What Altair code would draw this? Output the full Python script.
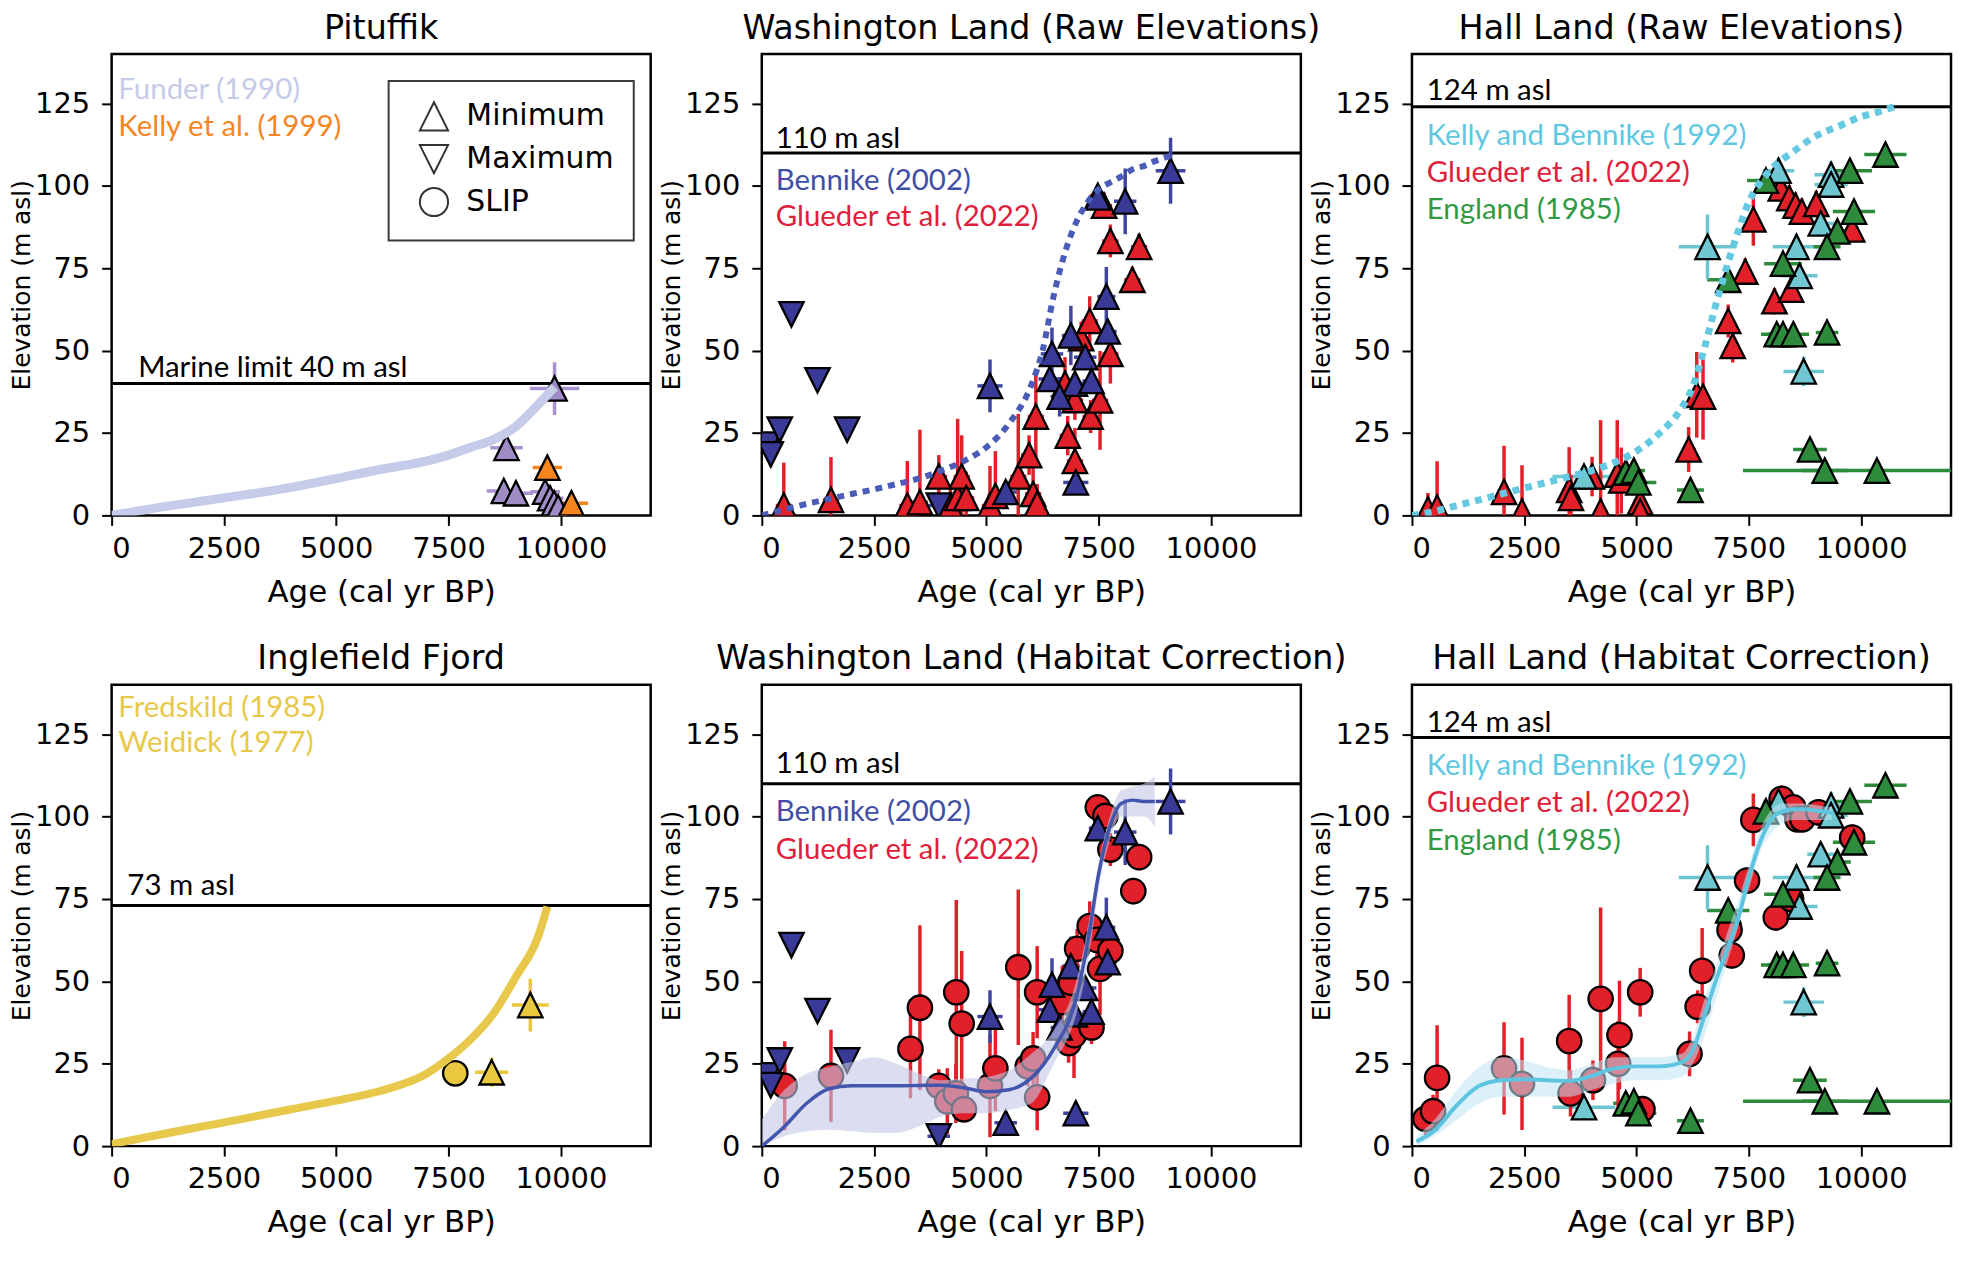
import altair as alt
import pandas as pd

# ------------------------------------------------------------------ data
# Pituffik -------------------------------------------------------------
PIT_FUNDER_X = [9860, 8790, 8730, 9000, 9650, 9760, 9850, 9940]
PIT_FUNDER_Y = [38.5, 20.5, 7.4, 6.7, 7.2, 5.2, 3.7, 2.4]
PIT_FUNDER_XERR = [550, 360, 380, 380, 330, 300, 280, 250]
PIT_FUNDER_YERR = [8, 0, 0, 0, 0, 0, 0, 0]
PIT_KELLY_X = [9700, 10235]
PIT_KELLY_Y = [14.5, 3.7]
PIT_KELLY_XERR = [325, 370]
PIT_CURVE_X = [0, 1000, 2500, 4000, 5000, 6000, 7000, 7500, 8000, 8500, 9000, 9500, 9860]
PIT_CURVE_Y = [0, 2.3, 5.3, 8.5, 11.2, 14.0, 16.5, 18.3, 20.7, 23.0, 27.0, 33.7, 39.0]

# Inglefield Fjord ------------------------------------------------------
ING_X = [7650, 8460, 9320]
ING_Y = [22.1, 22.4, 42.8]
ING_KIND = ["SLIP", "Minimum", "Minimum"]
ING_XERR = [0, 370, 410]
ING_YERR = [0, 4.4, 8]
ING_CURVE_X = [0, 1000, 2000, 3000, 4000, 5000, 6000, 6500, 7000, 7500, 8000, 8500, 9000, 9500, 9700]
ING_CURVE_Y = [0.6, 3.3, 5.9, 8.5, 11.2, 13.8, 16.8, 18.9, 21.9, 26.6, 32.5, 40.2, 51.4, 63.8, 72.7]

# Washington Land -------------------------------------------------------
WL_MIN_X = [9100, 8090, 7480, 7670, 7700, 6880, 6460, 7200, 6410, 6970, 7340, 6630, 5080, 5430, 6990]
WL_MIN_Y = [104.6, 95.3, 96.5, 66.4, 55.8, 54.6, 49.0, 48.0, 41.4, 40.0, 40.8, 36.0, 39.3, 7.1, 10.0]
WL_MIN_XERR = [330, 250, 200, 200, 200, 200, 250, 250, 250, 200, 200, 200, 280, 250, 280]
WL_MIN_YERR = [10, 10, 3, 9, 3, 9, 8, 3, 3, 3, 3, 6, 8, 0, 0]
WL_MAX_X = [150, 200, 400, 660, 1240, 1900, 3940]
WL_MAX_Y = [21.5, 18.5, 26.0, 61.0, 41.0, 26.0, 3.0]
WL_MAX_XERR = [150, 100, 100, 50, 50, 50, 250]

WL_RAW_X = [490, 1540, 3240, 3520, 3940, 4200, 4360, 4450, 4550, 5080, 5200, 5710, 5950, 6040, 6130,
            6100, 6810, 6830, 6970, 6970, 7110, 7300, 7320, 7530, 7760, 7620, 7760, 8400, 8250, 7480, 6750]
WL_RAW_Y = [3.0, 4.7, 3.0, 4.0, 11.8, 3.0, 5.3, 11.8, 5.3, 3.0, 5.9, 11.8, 18.3, 6.5, 3.5,
            30.0, 24.2, 36.0, 35.0, 16.5, 53.8, 59.0, 30.0, 34.9, 49.0, 94.0, 83.3, 81.5, 71.5, 97.0, 40.0]
WL_RAW_YERR = [13, 13, 13.5, 22, 6.5, 6, 24, 12.5, 8, 12, 13.6, 19, 6, 10, 6,
               13, 6, 5, 6, 10, 5, 7.5, 5, 15, 9, 4, 5, 4, 4, 3, 8]

WL_COR_X = [510, 1540, 3310, 3520, 3940, 4130, 4320, 4330, 4450, 4500, 5080, 5200, 5710, 5920, 6040, 6130,
            6130, 6690, 6690, 6830, 6880, 6950, 7020, 7300, 7340, 7460, 7530, 7760, 7480, 7650, 7760, 8270, 8400]
WL_COR_Y = [18.3, 21.3, 29.5, 42.0, 18.3, 13.6, 16.0, 46.7, 37.2, 11.2, 18.3, 23.6, 54.3, 24.2, 26.6, 46.7,
            14.8, 46.7, 43.7, 31.3, 49.6, 33.7, 59.9, 66.8, 36.0, 62.6, 53.8, 59.3, 102.8, 100.2, 90.0, 77.4, 87.7]
WL_COR_YERR = [13.5, 14, 15, 25, 5, 10, 9, 28, 22, 4, 15.6, 13, 23.6, 6, 8, 14,
               10, 8, 8, 6, 8, 13, 6, 7.5, 5, 6, 14, 8, 3, 4, 5, 4, 4]

WL_RAW_CURVE_X = [0, 500, 1000, 1500, 2000, 2500, 3000, 3500, 4000, 4500, 5000, 5500, 6000, 6250, 6500,
                  6750, 7000, 7250, 7500, 7750, 8000, 8250, 8500, 8750, 9000, 9150]
WL_RAW_CURVE_Y = [0, 1.8, 3.5, 5.0, 6.5, 7.9, 9.5, 11.2, 13.6, 16.5, 20.7, 27.8, 39.6, 50.0, 66.8,
                  79.8, 89.0, 95.0, 99.0, 101.0, 102.8, 105.0, 106.0, 107.5, 108.7, 109.3]
WL_FIT_X = [0, 500, 1000, 1500, 2000, 2500, 3000, 3500, 4000, 4500, 5000, 5500, 6000, 6500, 7000,
            7250, 7500, 7750, 8000, 8250, 8500, 8750]
WL_FIT_Y = [0, 5.9, 13.0, 17.4, 18.3, 18.3, 18.3, 18.4, 18.5, 17.7, 16.5, 17.1, 20.7, 29.5, 45.0,
            61.4, 82.7, 96.9, 104.0, 105.0, 104.6, 104.6]
WL_FIT_LO = [0, 3, 4.5, 5, 4.5, 4, 4, 6, 9, 10, 10, 11, 13, 25, 40,
             55, 78, 93, 100, 100, 100, 97]
WL_FIT_HI = [8, 17, 22, 24, 25.5, 27, 25, 22, 20, 20.5, 21, 23, 28, 35, 50,
             66, 86, 100, 108, 109, 110, 112]

# Hall Land -------------------------------------------------------------
HL_RAW_X = [355, 560, 2050, 2450, 3500, 3540, 4010, 4200, 4570, 4660, 5080, 5080, 6160, 6340, 6480,
            7040, 7140, 7420, 7600, 8070, 8440, 8210, 8400, 8540, 8680, 9000, 9800]
HL_RAW_Y = [1.8, 2.4, 7.1, 1.2, 7.7, 5.3, 11.8, 1.2, 12.4, 10.6, 4.1, 1.2, 20.0, 36.6, 36.0,
            59.0, 51.4, 74.0, 89.8, 65.0, 68.5, 99.2, 96.3, 94.0, 92.2, 94.5, 86.8]
HL_RAW_YERR = [5, 14, 14, 14, 13, 7, 6, 27.7, 16.5, 10, 4, 4, 6.8, 13, 13,
               5, 5, 4, 8, 4, 4, 4, 4, 4, 4, 4, 4]
HL_COR_X = [300, 470, 560, 2050, 2450, 3500, 3530, 4030, 4200, 4620, 4590, 5080, 5130, 6180,
            6360, 6460, 7070, 7120, 7460, 7600, 8100, 8440, 8230, 8490, 8580, 8690, 9050, 9800]
HL_COR_Y = [8.3, 10.6, 20.7, 23.6, 18.9, 31.9, 16.0, 20.0, 44.7, 33.7, 25.0, 46.7, 11.2, 28.0,
            42.3, 53.2, 65.6, 57.9, 80.6, 99.0, 69.4, 75.0, 105.4, 102.8, 99.2, 99.2, 101.3, 93.6]
HL_COR_YERR = [5, 5, 16, 14, 14, 14, 7, 6, 27.7, 16.5, 13, 7.4, 4, 6.8,
               5, 13, 4, 4, 4, 8, 4, 4, 4, 4, 4, 4, 4, 4]
HL_KB_X = [6580, 3830, 8160, 9330, 9330, 9100, 8560, 8630, 8720]
HL_KB_Y = [81.5, 11.8, 104.6, 103.4, 100.4, 88.6, 81.5, 72.7, 43.7]
HL_KB_XERR = [640, 700, 350, 370, 370, 300, 530, 400, 450]
HL_KB_YERR = [9.8, 0, 4, 4, 4, 3, 4, 3, 4.5]
HL_EN_X = [7880, 9750, 10540, 9840, 9470, 9240, 8260, 7040, 8120, 8260, 8490, 9240, 8860, 9190,
           10350, 6200, 4760, 4940, 5040]
HL_EN_Y = [101.6, 104.6, 109.5, 92.2, 86.2, 81.5, 76.4, 71.5, 55.0, 55.0, 55.0, 55.5, 20.0, 13.6,
           13.6, 7.7, 13.0, 13.6, 10.0]
HL_EN_XERR = [420, 490, 470, 470, 300, 300, 420, 470, 350, 350, 350, 250, 375, 500,
              2980, 300, 280, 250, 400]
HL_RAW_CURVE_X = [0, 500, 1000, 1500, 2000, 2500, 3000, 3500, 4000, 4500, 5000, 5500, 6000, 6250,
                  6500, 6750, 7000, 7250, 7500, 7750, 8000, 8500, 9000, 9500, 10000, 10500, 10800]
HL_RAW_CURVE_Y = [0, 1.2, 3.0, 4.7, 6.5, 8.3, 10.0, 11.8, 13.6, 16.0, 19.5, 24.8, 32.5, 39.0,
                  50.2, 63.2, 75.0, 85.7, 95.1, 101.0, 105.1, 110.5, 115.2, 118.1, 121.0, 122.9, 124.4]
HL_FIT_X = [100, 500, 1000, 1500, 2000, 2500, 3000, 3500, 4000, 4500, 5000, 5500, 6000, 6250, 6500,
            6750, 7000, 7250, 7500, 7750, 8000, 8250, 8500, 8750, 9000, 9250, 9350]
HL_FIT_Y = [1.4, 4.7, 12.4, 18.3, 20.0, 20.3, 20.0, 19.8, 21.3, 23.6, 24.2, 24.2, 25.4, 29.0, 39.0,
            49.6, 59.0, 68.5, 81.5, 92.2, 99.2, 101.6, 102.2, 102.2, 101.8, 101.4, 101.0]
HL_FIT_LO = [0, 3, 8, 13, 15, 15, 15, 15, 17, 19, 20, 20, 21, 25, 33,
             44, 55, 66, 78, 89, 95, 98, 99, 99, 99, 99, 99]
HL_FIT_HI = [3, 8, 17, 24, 27, 26, 24, 23, 25, 27, 27, 27, 28, 33, 44,
             54, 64, 74, 85, 96, 102, 104, 104, 104, 103.5, 103, 103]

# Styling tables --------------------------------------------------------
SOURCES = ["Funder", "Kelly1999", "Inglefield", "Bennike", "Glueder", "KellyBennike", "England"]
FILL_COLORS = ["#9f8bc6", "#f5861f", "#e9c73f", "#393a97", "#e2202a", "#70c6d1", "#2e8b3c"]
BAR_COLORS = ["#a892cf", "#f5861f", "#e9c73f", "#3f45a0", "#e2202a", "#6cc6cf", "#2e8b3c"]
KINDS = ["Minimum", "Maximum", "SLIP"]
SHAPES = ["M0,-1L1,1L-1,1Z", "M-1,-1L1,-1L0,1Z", "circle"]

XMAX, YMAX = 12000, 140
W, H = 541, 463
ROW_GAP = 170
FONT = "DejaVu Sans"
ANN_FONT = "Lato"


# ------------------------------------------------------------------ helpers
def pts(x, y, source, kind, xerr=None, yerr=None):
    n = len(x)
    xerr = xerr if xerr is not None else [0] * n
    yerr = yerr if yerr is not None else [0] * n
    if isinstance(kind, str):
        kind = [kind] * n
    df = pd.DataFrame({"x": x, "y": y, "xerr": xerr, "yerr": yerr, "kind": kind})
    df["source"] = source
    df["xlo"] = (df.x - df.xerr).clip(lower=0)
    df["xhi"] = (df.x + df.xerr).clip(upper=XMAX)
    df["ylo"] = (df.y - df.yerr).clip(lower=0)
    df["yhi"] = (df.y + df.yerr).clip(upper=YMAX)
    return df


XS = alt.Scale(domain=[0, XMAX], nice=False, zero=False)
YS = alt.Scale(domain=[0, YMAX], nice=False, zero=False)
XAX = alt.Axis(values=[0, 2500, 5000, 7500, 10000], format="d", title="Age (cal yr BP)")
YAX = alt.Axis(values=[0, 25, 50, 75, 100, 125], format="d", title="Elevation (m asl)")


def X(f):
    return alt.X(f, type="quantitative", scale=XS, axis=XAX)


def Y(f):
    return alt.Y(f, type="quantitative", scale=YS, axis=YAX)


def bars(df):
    stroke = alt.Stroke("source:N", scale=alt.Scale(domain=SOURCES, range=BAR_COLORS), legend=None)
    h = alt.Chart(df[df.xerr > 0]).mark_rule(strokeWidth=3.5, clip=True).encode(
        x=X("xlo"), x2="xhi", y=Y("y"), stroke=stroke)
    v = alt.Chart(df[df.yerr > 0]).mark_rule(strokeWidth=3.5, clip=True).encode(
        x=X("x"), y=Y("ylo"), y2="yhi", stroke=stroke)
    return [h, v]


def points(df, legend=False):
    leg = None
    if legend:
        leg = alt.Legend(title=None, orient="none", legendX=278, legendY=27,
                         fillColor="white", strokeColor="#3a3a3a", padding=20,
                         labelFont=FONT, labelFontSize=30, labelColor="black",
                         symbolSize=800, symbolStrokeWidth=2, symbolStrokeColor="#333333",
                         symbolFillColor="white", symbolOffset=10, labelOffset=17,
                         rowPadding=6, values=KINDS)
    return alt.Chart(df).mark_point(filled=True, stroke="black", strokeWidth=2.3,
                                    size=600, opacity=1, clip=True).encode(
        x=X("x"), y=Y("y"),
        fill=alt.Fill("source:N", scale=alt.Scale(domain=SOURCES, range=FILL_COLORS), legend=None),
        shape=alt.Shape("kind:N", scale=alt.Scale(domain=KINDS, range=SHAPES), legend=leg),
    )


def curve(xv, yv, color, width, dash=None):
    df = pd.DataFrame({"x": xv, "y": yv})
    kw = dict(color=color, strokeWidth=width, clip=True, interpolate="monotone")
    if dash:
        kw["strokeDash"] = dash
        kw["strokeCap"] = "butt"
    return alt.Chart(df).mark_line(**kw).encode(x=X("x"), y=Y("y"))


def band(xv, lo, hi, color, op):
    df = pd.DataFrame({"x": xv, "lo": lo, "hi": hi})
    return alt.Chart(df).mark_area(color=color, opacity=op, clip=True, interpolate="monotone").encode(
        x=X("x"), y=Y("lo"), y2="hi")


def hline(val, label, lx, ly):
    df = pd.DataFrame({"y": [val]})
    r = alt.Chart(df).mark_rule(color="black", strokeWidth=3).encode(y=Y("y"))
    t = alt.Chart(pd.DataFrame({"x": [lx], "y": [ly], "t": [label]})).mark_text(
        align="left", baseline="alphabetic", font=ANN_FONT, fontSize=29.5, color="black").encode(
        x=X("x"), y=Y("y"), text="t:N")
    return [r, t]


def labels(lx, ys, texts, colors):
    df = pd.DataFrame({"x": [lx] * len(ys), "y": ys, "t": texts, "c": colors})
    return alt.Chart(df).mark_text(align="left", baseline="middle", font=ANN_FONT, fontSize=29.5).encode(
        x=X("x"), y=Y("y"), text="t:N", color=alt.Color("c:N", scale=None))


def panel(title, layers):
    return alt.layer(*layers).properties(
        width=W, height=H,
        title=alt.TitleParams(title, fontSize=33.5, font=FONT, fontWeight="normal", color="black", offset=8),
    )


# ------------------------------------------------------------------ panels
pit_f = pts(PIT_FUNDER_X, PIT_FUNDER_Y, "Funder", "Minimum", PIT_FUNDER_XERR, PIT_FUNDER_YERR)
pit_k = pts(PIT_KELLY_X, PIT_KELLY_Y, "Kelly1999", "Minimum", PIT_KELLY_XERR)
pit = pd.concat([pit_f, pit_k])
p1 = panel("Pituffik", hline(40, "Marine limit 40 m asl", 590, 42) + bars(pit) + [
    points(pit, legend=True),
    curve(PIT_CURVE_X, PIT_CURVE_Y, "#c5cbe9", 9),
    labels(150, [129, 117.9], ["Funder (1990)", "Kelly et al. (1999)"], ["#c5cbe9", "#f5861f"]),
])

ing = pts(ING_X, ING_Y, "Inglefield", ING_KIND, ING_XERR, ING_YERR)
p4 = panel("Inglefield Fjord", hline(73, "73 m asl", 350, 76.2) + bars(ing) + [
    points(ing),
    curve(ING_CURVE_X, ING_CURVE_Y, "#e8c84a", 8),
    labels(150, [133, 122.3], ["Fredskild (1985)", "Weidick (1977)"], ["#e8c84a", "#e8c84a"]),
])

wl_min = pts(WL_MIN_X, WL_MIN_Y, "Bennike", "Minimum", WL_MIN_XERR, WL_MIN_YERR)
wl_max = pts(WL_MAX_X, WL_MAX_Y, "Bennike", "Maximum", WL_MAX_XERR)
wl_raw = pts(WL_RAW_X, WL_RAW_Y, "Glueder", "Minimum", [180] * len(WL_RAW_X), WL_RAW_YERR)
wl_cor = pts(WL_COR_X, WL_COR_Y, "Glueder", "SLIP", [150] * len(WL_COR_X), WL_COR_YERR)
wl_a = pd.concat([wl_raw, wl_min, wl_max])
wl_b = pd.concat([wl_cor, wl_min, wl_max])
WL_TXT = ["Bennike (2002)", "Glueder et al. (2022)"]
WL_COL = ["#3f4ea6", "#e0203a"]
p2 = panel("Washington Land (Raw Elevations)", hline(110, "110 m asl", 310, 111.6) + bars(wl_a) + [
    points(wl_a),
    curve(WL_RAW_CURVE_X, WL_RAW_CURVE_Y, "#4a5cb8", 6, [7, 6]),
    labels(310, [101.6, 90.4], WL_TXT, WL_COL),
])
p5 = panel("Washington Land (Habitat Correction)", hline(110, "110 m asl", 310, 113.1) + bars(wl_b) + [
    points(wl_b),
    band(WL_FIT_X, WL_FIT_LO, WL_FIT_HI, "#c3c8e6", 0.6),
    curve(WL_FIT_X, WL_FIT_Y, "#4355ad", 3.5),
    labels(310, [101.3, 90.0], WL_TXT, WL_COL),
])

hl_raw = pts(HL_RAW_X, HL_RAW_Y, "Glueder", "Minimum", [150] * len(HL_RAW_X), HL_RAW_YERR)
hl_cor = pts(HL_COR_X, HL_COR_Y, "Glueder", "SLIP", [150] * len(HL_COR_X), HL_COR_YERR)
hl_kb = pts(HL_KB_X, HL_KB_Y, "KellyBennike", "Minimum", HL_KB_XERR, HL_KB_YERR)
hl_en = pts(HL_EN_X, HL_EN_Y, "England", "Minimum", HL_EN_XERR)
hl_a = pd.concat([hl_raw, hl_kb, hl_en])
hl_b = pd.concat([hl_cor, hl_kb, hl_en])
HL_TXT = ["Kelly and Bennike (1992)", "Glueder et al. (2022)", "England (1985)"]
HL_COL = ["#5ec8e2", "#e0203a", "#2f9a44"]
p3 = panel("Hall Land (Raw Elevations)", hline(124, "124 m asl", 330, 126) + bars(hl_a) + [
    points(hl_a),
    curve(HL_RAW_CURVE_X, HL_RAW_CURVE_Y, "#66c9e2", 7, [7, 6]),
    labels(330, [115.2, 104, 92.7], HL_TXT, HL_COL),
])
p6 = panel("Hall Land (Habitat Correction)", hline(124, "124 m asl", 330, 125.8) + bars(hl_b) + [
    points(hl_b),
    band(HL_FIT_X, HL_FIT_LO, HL_FIT_HI, "#bfe3f5", 0.55),
    curve(HL_FIT_X, HL_FIT_Y, "#5ec5e0", 4),
    labels(330, [115.2, 104, 92.7], HL_TXT, HL_COL),
])

row1 = alt.hconcat(p1, p2, p3, spacing=111.5, bounds="flush").resolve_scale(shape="independent")
row2 = alt.hconcat(p4, p5, p6, spacing=111.5, bounds="flush").resolve_scale(shape="independent")
# with flush bounds the nested rows count as zero height, so the spacing carries the row height
chart = alt.vconcat(row1, row2, spacing=H + ROW_GAP, bounds="flush").resolve_scale(
    shape="independent").properties(
    padding={"left": 0, "top": 0, "right": 0, "bottom": 0}
).configure_view(stroke="black", strokeWidth=2.5).configure_axis(
    grid=False, domain=False, labelFont=FONT, labelFontSize=29, labelColor="black",
    tickColor="black", tickWidth=2, tickSize=10, titleFont=FONT, titleFontWeight="normal",
    titleColor="black",
).configure_axisX(labelPadding=9, titleFontSize=31, titlePadding=14).configure_axisY(
    labelPadding=12, titleFontSize=25, titlePadding=0
).configure_legend(strokeWidth=2)

chart.save("out.html", embed_options={"renderer": "svg", "actions": False})
